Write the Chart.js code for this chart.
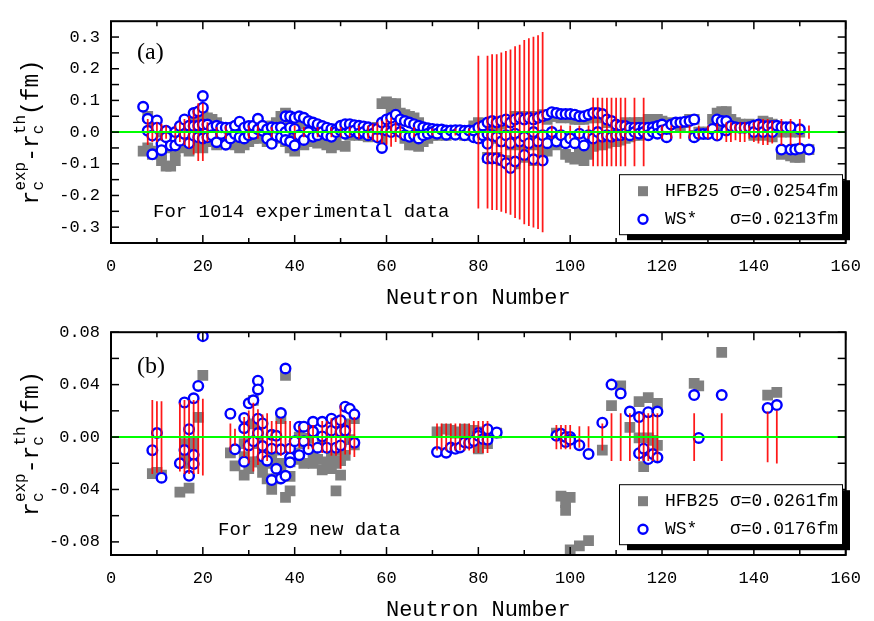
<!DOCTYPE html>
<html>
<head>
<meta charset="utf-8">
<script src="https://cdn.jsdelivr.net/npm/chart.js@4.4.0/dist/chart.umd.min.js"></script>
<style>
  html, body { margin: 0; padding: 0; background: #fff; }
  #wrap { position: relative; width: 874px; height: 621px; }
  canvas { position: absolute; left: 0; }
  #chartA { top: 0; }
  #chartB { top: 311px; }
</style>
</head>
<body>
<div id="wrap">
  <canvas id="chartA" width="874" height="311"></canvas>
  <canvas id="chartB" width="874" height="310"></canvas>
</div>
<script>
// ---- axis ticks ----
var xTicks = [0, 20, 40, 60, 80, 100, 120, 140, 160];
var xMinor = [10, 30, 50, 70, 90, 110, 130, 150];
var aTicks = [-0.3, -0.2, -0.1, 0, 0.1, 0.2, 0.3];
var aMinor = [-0.25, -0.15, -0.05, 0.05, 0.15, 0.25];
var bTicks = [-0.08, -0.04, 0, 0.04, 0.08];
var bMinor = [-0.06, -0.02, 0.02, 0.06];

// ---- panel (a): 1014 experimental data (readable subset) ----
var aN = [7,8,8,9,9,10,10,11,11,12,12,13,14,14,15,15,16,16,17,17,18,18,18,19,19,19,20,20,20,20,
  21,21,22,22,23,23,24,24,25,25,26,26,27,27,28,28,29,29,30,30,31,31,32,32,33,33,34,34,35,35,
  36,36,37,37,38,38,38,39,39,39,40,40,40,41,41,42,42,43,43,44,44,45,45,46,46,47,47,48,48,49,
  49,50,50,51,51,52,52,53,53,54,54,55,55,56,56,57,57,58,58,59,59,60,60,61,61,62,62,63,63,64,
  64,65,65,66,66,67,67,68,68,69,69,70,70,71,71,72,73,73,74,75,75,76,77,77,78,79,79,
  80,80,81,81,82,82,82,82,83,83,83,84,84,84,85,85,85,86,86,86,87,87,87,88,88,88,89,89,90,90,90,
  91,91,92,92,92,93,93,94,94,94,95,95,96,96,97,97,98,98,99,99,100,100,101,101,102,102,103,103,
  104,104,105,105,106,106,107,107,108,108,109,109,110,110,111,111,112,112,113,113,114,114,115,115,
  116,116,117,117,118,118,119,119,120,120,121,121,122,123,124,125,126,127,127,128,129,130,131,132,
  132,133,134,134,135,136,137,138,139,140,140,141,142,142,143,144,144,145,146,146,147,148,148,149,
  150,150,152];
var aWS = [0.08,0.042,0.004,-0.07,-0.011,0.037,0.014,-0.037,-0.057,0.004,-0.016,-0.042,-0.042,0.0,-0.027,0.019,0.04,-0.006,-0.035,0.02,0.06,0.019,-0.011,0.065,-0.016,0.02,0.114,0.077,0.024,-0.02,
  0.024,-0.016,0.014,-0.01,-0.032,0.02,-0.006,0.015,-0.04,0.014,0.014,-0.02,-0.006,0.02,0.033,-0.016,0.014,-0.02,0.019,-0.01,-0.006,0.02,0.042,0.009,0.004,0.02,0.009,-0.02,-0.037,0.015,
  -0.011,0.014,-0.016,0.015,0.05,0.0,-0.025,0.05,0.014,-0.03,0.045,-0.042,0.01,0.05,-0.01,0.045,-0.025,0.035,0.0,0.03,-0.015,0.025,-0.01,0.019,0.0,0.014,-0.01,0.01,-0.015,0.009,
  0.0,0.005,0.02,0.025,-0.005,0.025,0.0,0.022,0.005,0.02,-0.005,0.018,0.0,0.015,-0.01,0.01,-0.005,-0.016,0.01,-0.05,0.03,0.04,0.005,0.045,0.0,0.055,0.01,0.04,0.0,0.035,
  -0.01,0.03,-0.015,0.025,-0.01,0.02,-0.02,0.015,-0.01,0.012,-0.005,0.01,0.0,0.008,-0.005,0.008,0.005,-0.008,0.005,0.006,-0.008,0.006,0.004,-0.01,0.005,-0.016,0.005,
  0.014,-0.02,0.02,-0.01,0.03,-0.006,-0.037,-0.083,0.035,-0.083,-0.01,-0.083,0.03,-0.015,-0.088,0.035,-0.03,-0.098,0.04,-0.01,-0.113,0.03,-0.035,-0.093,0.04,-0.005,0.045,-0.03,-0.072,0.04,-0.015,
  0.045,-0.035,-0.086,0.04,0.0,0.045,-0.03,-0.09,0.05,-0.01,0.055,-0.035,0.063,0.0,0.06,-0.03,0.057,-0.01,0.057,-0.035,0.057,-0.02,0.055,-0.035,0.05,-0.005,0.05,-0.042,
  0.055,-0.01,0.06,-0.02,0.06,0.0,0.057,-0.015,0.04,-0.01,0.035,-0.015,0.024,-0.01,0.02,-0.01,0.019,-0.005,0.014,-0.01,0.014,0.0,0.014,-0.005,
  0.014,0.0,0.014,-0.01,0.015,0.0,0.019,-0.005,0.024,0.005,-0.016,0.01,0.024,0.03,0.03,0.033,0.035,0.04,-0.016,-0.006,-0.006,-0.006,0.01,0.04,
  -0.011,0.035,0.035,0.005,0.019,0.015,0.014,0.014,0.015,0.02,0.0,0.024,0.019,0.0,0.019,0.019,0.0,0.02,0.016,-0.055,0.015,0.016,-0.055,-0.055,
  0.009,-0.052,-0.055];
var aHFB = [-0.06,-0.05,0.05,-0.07,0.03,-0.06,0.0,-0.07,-0.09,-0.107,-0.05,-0.107,-0.09,-0.06,-0.04,0.0,-0.05,0.02,-0.06,0.03,-0.05,0.03,-0.03,0.04,-0.04,0.0,0.07,0.05,-0.02,-0.05,
  0.045,-0.03,0.04,-0.02,-0.04,0.03,-0.02,0.01,-0.03,0.0,-0.01,-0.03,-0.04,0.0,-0.05,-0.04,0.0,-0.04,0.01,-0.03,-0.02,0.0,0.01,-0.02,-0.01,0.0,0.0,-0.03,-0.03,0.02,
  0.0,0.03,-0.02,0.05,0.06,0.01,-0.03,0.04,0.02,-0.05,0.04,-0.06,0.0,0.03,-0.02,0.025,-0.04,0.02,-0.02,0.01,-0.03,0.0,-0.035,0.0,-0.03,-0.01,-0.04,-0.02,-0.05,-0.01,
  -0.04,0.0,0.01,0.015,-0.045,0.02,-0.01,0.02,-0.005,0.015,-0.01,0.01,-0.01,0.01,-0.015,0.0,-0.01,-0.01,0.015,-0.02,0.09,0.095,0.09,0.09,0.06,0.09,0.07,0.06,0.04,0.055,
  -0.02,0.05,-0.04,0.045,-0.04,0.03,-0.045,0.01,-0.03,0.005,-0.02,0.0,-0.01,0.0,-0.01,0.005,0.0,-0.01,0.0,0.005,-0.005,0.0,0.0,-0.01,0.005,-0.01,0.02,
  0.03,-0.01,0.01,-0.02,0.02,0.0,-0.03,-0.08,0.02,-0.08,-0.01,-0.08,0.02,-0.02,-0.09,0.025,-0.03,-0.09,0.03,-0.02,-0.1,0.035,-0.04,-0.1,0.05,-0.01,0.05,-0.04,-0.08,0.05,-0.02,
  0.05,-0.04,-0.09,0.05,-0.01,0.05,-0.04,-0.07,0.055,-0.02,0.04,-0.06,0.05,-0.01,0.05,-0.04,0.045,-0.02,0.05,-0.07,0.045,-0.08,0.04,-0.085,0.04,-0.06,0.04,-0.09,
  0.045,-0.07,0.045,-0.045,0.05,-0.04,0.045,-0.04,0.03,-0.035,0.03,-0.03,0.02,-0.03,0.02,-0.025,0.03,-0.02,0.025,-0.015,0.03,-0.01,0.03,-0.01,
  0.03,0.0,0.04,0.0,0.04,0.01,0.04,0.01,0.035,0.015,-0.005,0.02,0.03,0.025,0.02,0.03,0.04,0.04,-0.01,0.0,0.0,0.0,0.04,0.06,
  0.01,0.065,0.065,0.03,0.04,0.03,0.025,0.02,0.025,0.02,-0.01,0.02,0.035,-0.01,0.03,0.025,-0.015,0.01,0.0,-0.07,0.005,0.0,-0.075,-0.08,
  0.0,-0.08,-0.055];
var aErrN = [8,9,10,11,12,14,15,16,17,18,19,20,21,23,25,30,32,35,40,42,45,48,50,52,54,56,57,58,59,60,61,62,63,66,70,75,78,
  80,82,83,84,85,86,87,88,89,90,91,92,93,94,96,98,100,102,104,
  105,106,107,108,109,110,111,112,114,116,120,122,124,126,128,130,
  132,134,135,136,137,138,139,140,141,142,143,144,146,148,150,152];
var aErr = [0.04,0.03,0.03,0.025,0.02,0.02,0.03,0.04,0.05,0.07,0.09,0.09,0.03,0.015,0.02,0.02,0.02,0.015,0.02,0.015,0.015,0.015,0.015,0.015,0.02,0.02,0.025,0.03,0.035,0.04,0.045,0.03,0.02,0.015,0.01,0.01,0.01,
  0.24,0.24,0.245,0.245,0.25,0.255,0.26,0.27,0.275,0.29,0.295,0.3,0.305,0.315,0.02,0.02,0.02,0.02,0.02,
  0.107,0.107,0.107,0.107,0.107,0.107,0.107,0.107,0.107,0.107,0.02,0.02,0.02,0.02,0.02,0.02,
  0.025,0.03,0.03,0.025,0.03,0.03,0.02,0.03,0.035,0.04,0.04,0.035,0.04,0.04,0.04,0.02];

// ---- panel (b): 129 new data ----
var bN = [9,10,11,15,16,16,17,17,18,18,18,19,20,26,27,29,29,29,30,30,31,31,32,32,32,32,33,33,33,34,
  35,35,35,36,36,37,37,37,38,38,39,39,39,40,41,41,42,42,43,44,44,45,46,46,47,48,48,49,49,50,
  50,50,51,51,52,53,53,
  71,73,74,75,76,77,78,79,80,80,81,82,82,84,
  97,98,99,99,100,100,102,104,107,109,111,113,115,115,116,117,117,118,119,119,127,128,133,143,145];
var bWS = [-0.010,0.003,-0.031,-0.020,0.0264,-0.0099,0.006,-0.0296,0.0296,-0.0136,-0.0205,0.039,0.077,0.0178,-0.0094,0.0146,0.0067,-0.0188,0.0257,-0.0064,0.028,-0.0032,0.043,0.0363,0.014,0.003,0.0104,-0.0069,-0.0148,-0.018,
  0.0017,-0.0089,-0.0328,-0.0242,0.001,0.0183,-0.0094,-0.0316,-0.0296,0.0523,-0.0089,-0.0156,-0.0193,-0.0032,-0.0138,0.0079,0.0079,-0.0032,-0.0094,0.0116,0.0042,-0.0081,0.0116,0.0005,-0.0081,0.014,0.0049,0.0109,-0.0081,0.0128,
  0.0042,-0.0064,0.0232,0.005,0.0215,0.0173,-0.0044,
  -0.0114,-0.012,-0.008,-0.009,-0.008,-0.004,-0.0045,-0.003,0.003,0.001,-0.0015,0.006,-0.002,0.0035,
  0.001,0.0025,-0.0037,0.0,0.0,-0.002,-0.0062,-0.013,0.011,0.04,0.0333,0.0195,0.0153,-0.0123,-0.0089,0.019,-0.0168,-0.013,0.0195,-0.0156,0.032,-0.0007,0.032,0.0222,0.0244];
var bHFB = [-0.028,-0.027,-0.029,-0.042,-0.005,-0.015,-0.039,-0.02,-0.004,-0.017,-0.01,0.015,0.047,-0.012,-0.022,-0.005,-0.029,-0.015,0.01,-0.024,0.028,-0.019,0.01,0.0,-0.019,-0.005,-0.01,-0.027,-0.02,-0.032,
  -0.02,-0.015,-0.04,-0.032,-0.01,0.014,-0.02,-0.025,-0.046,0.047,-0.019,-0.041,-0.03,-0.012,-0.017,0.0,-0.005,-0.02,-0.001,-0.014,-0.02,-0.017,-0.025,-0.005,-0.019,-0.024,-0.015,-0.041,-0.02,-0.029,
  -0.01,-0.018,-0.014,0.01,-0.002,0.014,-0.006,
  0.004,0.006,0.005,0.003,0.004,0.006,0.002,0.005,-0.009,0.003,0.004,0.002,-0.005,0.003,
  0.003,-0.045,-0.05,-0.056,-0.046,-0.086,-0.083,-0.079,-0.0099,0.024,0.039,0.0074,0.027,-0.0007,-0.0225,0.030,-0.0007,-0.0025,0.0257,-0.0064,0.041,0.039,0.0647,0.032,0.034];
var bErrN = [9,10,11,15,16,17,18,19,20,26,27,29,30,31,32,33,34,35,36,37,38,39,41,43,44,46,47,48,49,50,51,52,53,
  71,72,73,74,75,76,77,78,79,80,81,82,
  97,98,99,100,102,104,107,109,111,113,115,116,117,118,119,127,133,143,145];
var bErr = [0.028,0.027,0.027,0.026,0.028,0.028,0.028,0.028,0.029,0.01,0.006,0.015,0.02,0.026,0.021,0.017,0.018,0.012,0.012,0.014,0.012,0.012,0.008,0.009,0.009,0.012,0.012,0.014,0.014,0.024,0.013,0.013,0.015,
  0.01,0.01,0.01,0.01,0.01,0.01,0.01,0.01,0.012,0.012,0.012,0.012,
  0.009,0.009,0.009,0.009,0.008,0.008,0.01,0.018,0.018,0.018,0.018,0.018,0.018,0.018,0.018,0.018,0.018,0.019,0.02];

var MONO = "'Liberation Mono', 'DejaVu Sans Mono', monospace";
var SERIF = "'Liberation Serif', 'DejaVu Serif', serif";

function drawYTitle(ctx, cx, cy) {
  var big = '23px ' + MONO, small = '16px ' + MONO;
  var parts = [['r'], ['c', 'exp'], ['-r'], ['c', 'th'], ['(fm)']];
  var w = 0;
  parts.forEach(function (p) {
    if (p.length == 1) { ctx.font = big; w += ctx.measureText(p[0]).width; }
    else { ctx.font = small; w += Math.max(ctx.measureText(p[0]).width, ctx.measureText(p[1]).width); }
  });
  ctx.save();
  ctx.translate(cx, cy);
  ctx.rotate(-Math.PI / 2);
  ctx.fillStyle = '#000';
  ctx.textBaseline = 'alphabetic';
  var x = -w / 2;
  parts.forEach(function (p) {
    if (p.length == 1) {
      ctx.font = big; ctx.fillText(p[0], x, 7); x += ctx.measureText(p[0]).width;
    } else {
      ctx.font = small;
      ctx.fillText(p[0], x, 12);
      ctx.fillText(p[1], x, -6);
      x += Math.max(ctx.measureText(p[0]).width, ctx.measureText(p[1]).width);
    }
  });
  ctx.restore();
}

var framePlugin = {
  id: 'frame',
  afterDatasetsDraw: function (chart, args, o) {
    var ctx = chart.ctx, a = chart.chartArea;
    var xs = chart.scales.x, ys = chart.scales.y;
    ctx.save();
    ctx.strokeStyle = '#000';
    ctx.lineWidth = 1.5;
    function seg(x1, y1, x2, y2) { ctx.beginPath(); ctx.moveTo(x1, y1); ctx.lineTo(x2, y2); ctx.stroke(); }
    xTicks.forEach(function (v) { var p = xs.getPixelForValue(v); seg(p, a.bottom, p, a.bottom - 8); seg(p, a.top, p, a.top + 8); });
    xMinor.forEach(function (v) { var p = xs.getPixelForValue(v); seg(p, a.bottom, p, a.bottom - 5); seg(p, a.top, p, a.top + 5); });
    o.yTicks.concat(o.yMinor).forEach(function (v) { var p = ys.getPixelForValue(v); seg(a.left, p, a.left + 8, p); seg(a.right, p, a.right - 8, p); });
    ctx.lineWidth = 2;
    ctx.strokeRect(a.left, a.top, a.right - a.left, a.bottom - a.top);

    // texts
    ctx.fillStyle = '#000';
    ctx.textBaseline = 'middle';
    ctx.font = '24px ' + SERIF;
    ctx.fillText(o.tag, a.left + 26, a.top + o.tagDy);
    ctx.font = '19px ' + MONO;
    ctx.fillText(o.note, a.left + o.noteDx, a.top + o.noteDy);
    ctx.font = '22px ' + MONO;
    ctx.textAlign = 'center';
    ctx.fillText('Neutron Number', (a.left + a.right) / 2, a.bottom + 55);
    ctx.textAlign = 'left';
    drawYTitle(ctx, 31, (a.top + a.bottom) / 2);

    // legend with shadow
    var lx = 619, ly = a.top + o.legDy, lw = 223, lh = 60;
    ctx.fillStyle = '#000';
    ctx.fillRect(lx + 8, ly + 6, lw, lh);
    ctx.fillStyle = '#fff';
    ctx.fillRect(lx, ly, lw, lh);
    ctx.lineWidth = 1;
    ctx.strokeRect(lx + 0.5, ly + 0.5, lw, lh);
    ctx.fillStyle = '#808080';
    ctx.fillRect(lx + 19, ly + 12, 10, 10);
    ctx.beginPath();
    ctx.arc(lx + 24, ly + 45, 4.5, 0, Math.PI * 2);
    ctx.strokeStyle = '#0000ff';
    ctx.lineWidth = 2.4;
    ctx.stroke();
    ctx.fillStyle = '#000';
    ctx.font = '18px ' + MONO;
    ctx.fillText('HFB25', lx + 46, ly + 17);
    ctx.fillText('WS*', lx + 46, ly + 45);
    ctx.fillText(o.sigma[0], lx + 111, ly + 17);
    ctx.fillText(o.sigma[1], lx + 111, ly + 45);
    ctx.restore();
  }
};

function makeChart(id, N, ws, hfb, errN, err, yMin, yMax, yTicks, yMinor, digits, padTop, xHeight, extra) {
  var errData = errN.map(function (n, i) { return { x: n, y: [-err[i], err[i]] }; });
  var opts = Object.assign({ yTicks: yTicks, yMinor: yMinor }, extra);
  return new Chart(document.getElementById(id).getContext('2d'), {
    type: 'scatter',
    data: {
      datasets: [
        { type: 'line', data: [{ x: 0, y: 0 }, { x: 160, y: 0 }], borderColor: '#00ff00', borderWidth: 2, pointRadius: 0, order: 0 },
        { type: 'bar', data: errData, backgroundColor: 'rgba(255,0,0,0.9)', barThickness: 1.1, order: 1 },
        { data: N.map(function (n, i) { return { x: n, y: ws[i] }; }), pointStyle: 'circle', pointRadius: 4.8,
          borderColor: '#0000ff', backgroundColor: '#ffffff', borderWidth: 2.4, order: 2 },
        { data: N.map(function (n, i) { return { x: n, y: hfb[i] }; }), pointStyle: 'rect', pointRadius: 7.6,
          borderWidth: 0, backgroundColor: '#808080', order: 3 }
      ]
    },
    options: {
      responsive: false,
      animation: false,
      devicePixelRatio: 1,
      events: [],
      layout: { padding: { left: 0, right: 17, top: padTop, bottom: 0 } },
      plugins: { legend: { display: false }, tooltip: { enabled: false }, frame: opts },
      scales: {
        x: {
          type: 'linear', min: 0, max: 160, offset: false,
          grid: { display: false, drawTicks: false },
          border: { display: false },
          afterFit: function (s) { s.height = xHeight; },
          afterBuildTicks: function (s) { s.ticks = xTicks.map(function (v) { return { value: v }; }); },
          ticks: { padding: 13, color: '#000', font: { family: MONO, size: 17 }, maxRotation: 0,
            callback: function (v) { return String(v); } }
        },
        y: {
          min: yMin, max: yMax,
          grid: { display: false, drawTicks: false },
          border: { display: false },
          afterFit: function (s) { s.width = 111; },
          afterBuildTicks: function (s) { s.ticks = yTicks.map(function (v) { return { value: v }; }); },
          ticks: { padding: 11, color: '#000', font: { family: MONO, size: 17 },
            callback: function (v) { return v.toFixed(digits); } }
        }
      }
    },
    plugins: [framePlugin]
  });
}

makeChart('chartA', aN, aWS, aHFB, aErrN, aErr, -0.35, 0.35, aTicks, aMinor, 1, 13, 68,
  { tag: '(a)', tagDy: 32, note: 'For 1014 experimental data', noteDx: 42, noteDy: 191, legDy: 153,
    sigma: ['\u03c3=0.0254fm', '\u03c3=0.0213fm'] });
makeChart('chartB', bN, bWS, bHFB, bErrN, bErr, -0.09, 0.08, bTicks, bMinor, 2, 14, 66,
  { tag: '(b)', tagDy: 35, note: 'For 129 new data', noteDx: 107, noteDy: 198, legDy: 152,
    sigma: ['\u03c3=0.0261fm', '\u03c3=0.0176fm'] });
</script>
</body>
</html>
